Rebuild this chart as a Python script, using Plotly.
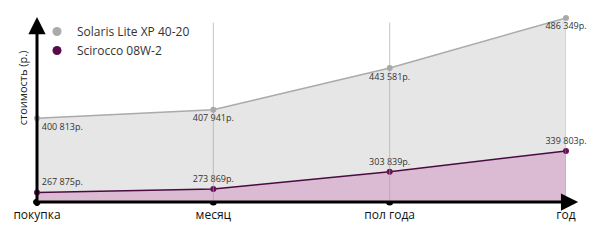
import plotly.graph_objects as go

categories = ["покупка", "месяц", "пол года", "год"]
solaris = [400813, 407941, 443581, 486349]
scirocco = [267875, 273869, 303839, 339803]
series_names = ["Solaris Lite XP 40-20", "Scirocco 08W-2"]
y_title = "стоимость (р.)"

def fmt(v):
    return f"{v:,}".replace(",", " ") + "р."

FONT = "Open Sans"
Y1 = [329349, 487119]
Y2 = [251160, 572676]

fig = go.Figure()

fig.add_trace(go.Scatter(
    x=categories, y=solaris, mode="lines+markers+text",
    fill="tozeroy", fillcolor="#e6e6e6",
    line=dict(color="#aaaaaa", width=1.5),
    marker=dict(color="#aaaaaa", size=6),
    text=[fmt(v) for v in solaris],
    textposition=["bottom right", "bottom center", "bottom center", "bottom center"],
    textfont=dict(family=FONT, size=9, color="#333333"),
    cliponaxis=False, showlegend=False, hoverinfo="skip",
))
fig.add_trace(go.Scatter(
    x=categories, y=scirocco, mode="lines+markers+text", yaxis="y2",
    fill="tozeroy", fillcolor="#dbbad3",
    line=dict(color="#4a0c3e", width=1.5),
    marker=dict(color="#6a1055", size=6),
    text=[fmt(v) for v in scirocco],
    textposition=["top right", "top center", "top center", "top center"],
    textfont=dict(family=FONT, size=9, color="#333333"),
    cliponaxis=False, showlegend=False, hoverinfo="skip",
))
# dots on the x axis
fig.add_trace(go.Scatter(
    x=categories, y=[Y1[0]] * len(categories), mode="markers",
    marker=dict(color="black", size=7), cliponaxis=False,
    showlegend=False, hoverinfo="skip",
))
# legend entries
for name, col in zip(series_names, ["#aaaaaa", "#5a0a4a"]):
    fig.add_trace(go.Scatter(x=[None], y=[None], mode="markers", name=name,
                             marker=dict(color=col, size=9)))

shapes = []
for c in categories[1:]:
    shapes.append(dict(type="line", xref="x", yref="paper", x0=c, x1=c, y0=0, y1=0.97,
                       line=dict(color="rgba(160,160,160,0.6)", width=1), layer="above"))

annotations = [
    # y axis arrow
    dict(xref="x domain", yref="y domain", axref="x domain", ayref="y domain",
         x=0, y=1, ax=0, ay=-0.03, showarrow=True, arrowhead=2, arrowsize=1.15,
         arrowwidth=3, arrowcolor="black", text=""),
    # x axis arrow
    dict(xref="x domain", yref="y domain", axref="x domain", ayref="y domain",
         x=1.023, y=0, ax=-0.01, ay=0, showarrow=True, arrowhead=2, arrowsize=1.15,
         arrowwidth=3, arrowcolor="black", text=""),
    dict(xref="paper", yref="paper", x=-0.028, y=0.616, xanchor="center", yanchor="middle",
         text=y_title, textangle=-90,
         showarrow=False, font=dict(family=FONT, size=11, color="#222222")),
]

fig.update_layout(
    width=600, height=246,
    margin=dict(l=37, r=34, t=17, b=44),
    paper_bgcolor="white", plot_bgcolor="white",
    font=dict(family=FONT, size=12, color="#222222"),
    xaxis=dict(range=[0, 3], showgrid=False, zeroline=False, showline=False,
               ticks="", ticklabelstandoff=4,
               tickfont=dict(family=FONT, size=12, color="#111111")),
    yaxis=dict(range=Y1, visible=False),
    yaxis2=dict(range=Y2, overlaying="y", visible=False),
    legend=dict(x=0.0, y=1.0, xanchor="left", yanchor="top",
                font=dict(family=FONT, size=12, color="#333333"),
                bgcolor="rgba(0,0,0,0)", itemwidth=30),
    shapes=shapes, annotations=annotations,
)

fig.write_html("out.html")
